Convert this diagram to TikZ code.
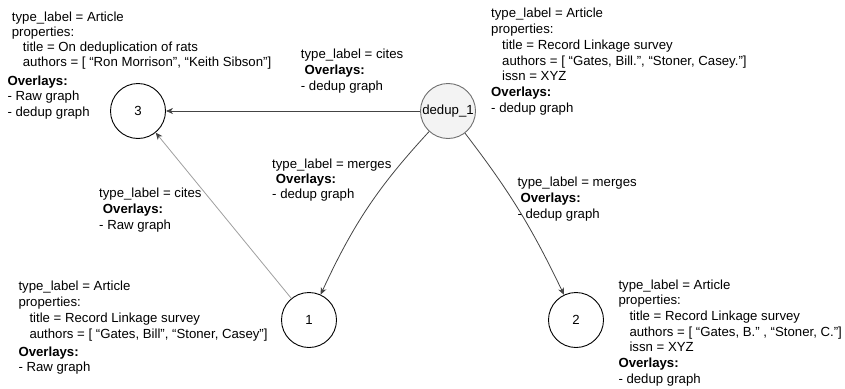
\documentclass[tikz,border=0pt]{standalone}
\usepackage{fontspec}
\setmainfont{Liberation Sans}
\usetikzlibrary{arrows.meta,bending}

\definecolor{edgedark}{HTML}{444444}
\definecolor{rawgray}{HTML}{9E9E9E}
\definecolor{mergefill}{HTML}{F3F3F3}
\definecolor{mergestroke}{HTML}{6E6E6E}

\begin{document}
\begin{tikzpicture}[x=1pt,y=-1pt,
  every node/.style={font=\fontsize{13.2}{15.8}\selectfont},
  vertex/.style={circle,draw=black,line width=0.9pt,minimum size=55pt,inner sep=0pt,fill=white},
  merged/.style={vertex,draw=mergestroke,fill=mergefill},
  % multi-line text blocks are placed by the baseline of their last line
  info/.style={align=left,anchor=base west,inner sep=0pt},
  arr/.style={-{Stealth[length=7pt,width=6pt,inset=2pt,color=edgedark]},line width=0.8pt},
]
\useasboundingbox (0,0) rectangle (845,388);

% article vertices and the merged vertex
\node[vertex] (n3) at (138,111) {3};
\node[merged] (dd) at (448,111) {dedup\_1};
\node[vertex] (n1) at (309,320) {1};
\node[vertex] (n2) at (576,320) {2};

% edges
\draw[arr,draw=edgedark] (dd) -- (n3);
\draw[arr,draw=rawgray] (n1) -- (n3);
\draw[arr,draw=edgedark] (dd) to[bend right=9] (n1);
\draw[arr,draw=edgedark] (dd) to[bend left=6] (n2);

% vertex 3 properties
\node[info,font=\fontsize{13.2}{15}\selectfont] (l3a) at (11.7,66.7)
  {type\_label = Article\\properties:\\\hspace*{11pt}title = On deduplication of rats\\\hspace*{11pt}authors = [ “Ron Morrison”, “Keith Sibson”]};
\node[info] (l3b) at (7.3,116.6) {\textbf{Overlays:}\\- Raw graph\\- dedup graph};

% dedup_1 properties
\node[info] (lda) at (491,112.4)
  {type\_label = Article\\properties:\\\hspace*{11pt}title = Record Linkage survey\\\hspace*{11pt}authors = [ “Gates, Bill.”, “Stoner, Casey.”]\\\hspace*{11pt}issn = XYZ\\\textbf{Overlays:}\\- dedup graph};

% vertex 1 properties
\node[info,font=\fontsize{13.2}{16}\selectfont] (l1a) at (18.3,338.7)
  {type\_label = Article\\properties:\\\hspace*{11pt}title = Record Linkage survey\\\hspace*{11pt}authors = [ “Gates, Bill”, “Stoner, Casey”]};
\node[info,font=\fontsize{13.2}{14.5}\selectfont] (l1b) at (18.3,371.2) {\textbf{Overlays:}\\- Raw graph};

% vertex 2 properties
\node[info,font=\fontsize{13.2}{15.7}\selectfont] (l2a) at (618.3,383.2)
  {type\_label = Article\\properties:\\\hspace*{11pt}title = Record Linkage survey\\\hspace*{11pt}authors = [ “Gates, B.” , “Stoner, C.”]\\\hspace*{11pt}issn = XYZ\\\textbf{Overlays:}\\- dedup graph};

% edge labels
\node[info,font=\fontsize{13.2}{16}\selectfont] (ecite) at (300.7,90)
  {type\_label = cites\\\hspace*{3.7pt}\textbf{Overlays:}\\- dedup graph};
\node[info,font=\fontsize{13.2}{15}\selectfont] (emerge1) at (272,198)
  {type\_label = merges\\\hspace*{3.7pt}\textbf{Overlays:}\\- dedup graph};
\node[info,font=\fontsize{13.2}{16}\selectfont] (eraw) at (99,229)
  {type\_label = cites\\\hspace*{3.7pt}\textbf{Overlays:}\\- Raw graph};
\node[info,font=\fontsize{13.2}{16}\selectfont] (emerge2) at (517.3,218.7)
  {type\_label = merges\\\hspace*{3pt}\textbf{Overlays:}\\- dedup graph};
\end{tikzpicture}
\end{document}
